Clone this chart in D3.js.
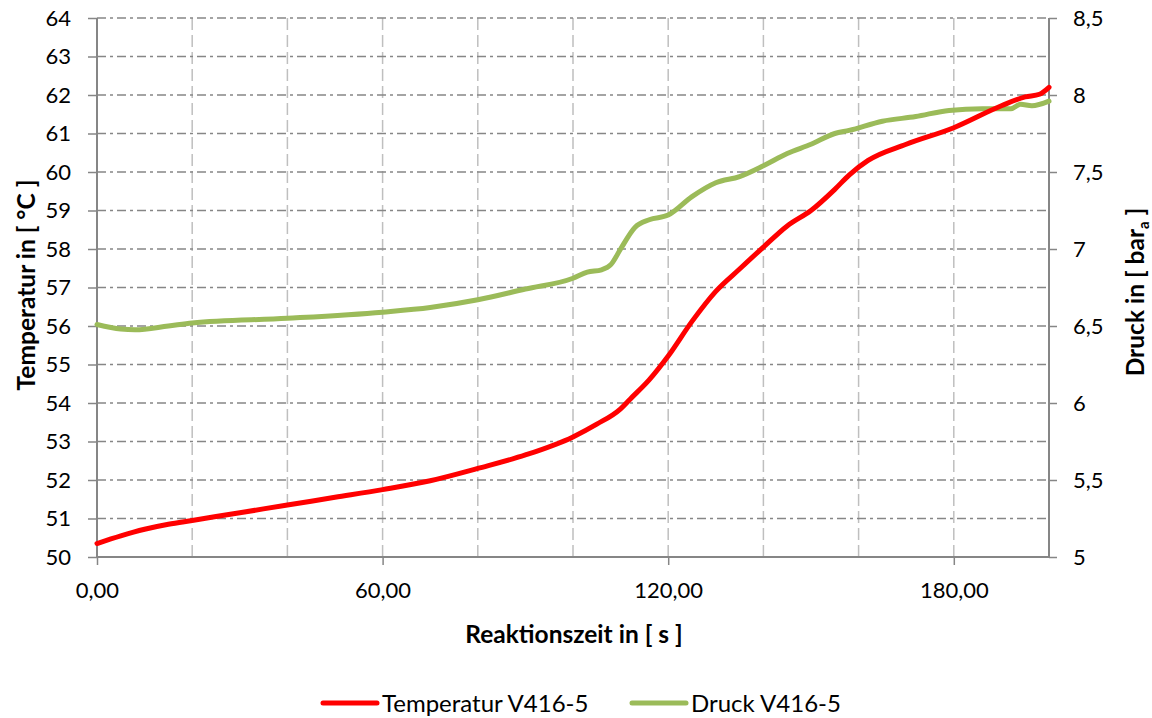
<!DOCTYPE html>
<html><head><meta charset="utf-8">
<script src="https://cdn.jsdelivr.net/npm/d3@7"></script>
<style>
body{margin:0;background:#fff;}
svg{display:block;font-family:Lato,"Open Sans",sans-serif;}
</style></head><body>
<svg id="c" width="1152" height="718"></svg>
<script>
const timeT = [0,5,10,15,20,30,40,50,60,70,80,90,100,105,110,112,116,120,125,130,135,140,145,150,155,158,162,170,180,190,195,198,200];
const tempT = [50.35,50.55,50.72,50.85,50.95,51.15,51.35,51.55,51.75,51.98,52.3,52.65,53.12,53.45,53.85,54.1,54.6,55.22,56.12,56.9,57.48,58.05,58.6,59.0,59.55,59.92,60.3,60.72,61.15,61.72,61.95,62.02,62.2];
const timeP = [0,5,8,15,20,40,60,70,80,90,100,103,106,108,110,113,116,120,125,130,135,140,145,150,155,158,165,172,179,186,192,194,196.4,200];
const druckP = [6.51,6.48,6.475,6.5,6.52,6.55,6.59,6.62,6.67,6.74,6.81,6.85,6.865,6.9,7.0,7.14,7.19,7.22,7.34,7.43,7.47,7.54,7.62,7.68,7.75,7.77,7.83,7.86,7.9,7.91,7.91,7.94,7.93,7.96];
const xTicks = [0,60,120,180];
const xGrid = [20,40,60,80,100,120,140,160,180];
const yLeftTicks = d3.range(50,65,1);
const yRightTicks = [5,5.5,6,6.5,7,7.5,8,8.5];
const seriesNames = ["Temperatur V416-5","Druck V416-5"];
const colors = ["#FF0000","#9BBB59"];

const svg = d3.select("#c");
const L=97, R=1049, T=18, B=557;
const x = d3.scaleLinear().domain([0,200]).range([L,R]);
const yL = d3.scaleLinear().domain([50,64]).range([B,T]);
const yR = d3.scaleLinear().domain([5,8.5]).range([B,T]);
const fmt = d => d.toFixed(2).replace(".",",");
const fmtR = d => String(d).replace(".",",");

// vertical grid
svg.append("g").selectAll("line").data(xGrid).join("line")
  .attr("x1",d=>x(d)).attr("x2",d=>x(d)).attr("y1",T).attr("y2",B)
  .attr("stroke","#BFBFBF").attr("stroke-width",1.5).attr("stroke-dasharray","12,5");
// horizontal grid
svg.append("g").selectAll("line").data(yLeftTicks.filter(d=>d>50)).join("line")
  .attr("x1",L).attr("x2",R).attr("y1",d=>yL(d)).attr("y2",d=>yL(d))
  .attr("stroke","#868686").attr("stroke-width",1.5).attr("stroke-dasharray","9,4,3,4");

// axes
const axL = svg.append("g").attr("transform",`translate(${L},0)`)
  .call(d3.axisLeft(yL).tickValues(yLeftTicks).tickFormat(d=>d).tickSize(9).tickPadding(17));
const axR = svg.append("g").attr("transform",`translate(${R},0)`)
  .call(d3.axisRight(yR).tickValues(yRightTicks).tickFormat(fmtR).tickSize(8).tickPadding(16));
const axB = svg.append("g").attr("transform",`translate(0,${B})`)
  .call(d3.axisBottom(x).tickValues(xTicks).tickFormat(fmt).tickSize(8).tickPadding(17));
[axL,axR,axB].forEach(a=>{
  a.select(".domain").attr("stroke","#868686").attr("stroke-width",2);
  a.selectAll(".tick line").attr("stroke","#868686").attr("stroke-width",1.5);
  a.selectAll("text").attr("font-size",22).attr("fill","#000").attr("font-family","Lato");
});
axL.select(".domain").attr("d",`M0,${B}V${T}`);
axR.select(".domain").attr("d",`M0,${B}V${T}`);
axB.select(".domain").attr("d",`M${L},0H${R}`);

// lines
const lineT = d3.line().x((d,i)=>x(timeT[i])).y(d=>yL(d)).curve(d3.curveMonotoneX);
const lineP = d3.line().x((d,i)=>x(timeP[i])).y(d=>yR(d)).curve(d3.curveMonotoneX);
svg.append("path").attr("d",lineP(druckP)).attr("fill","none").attr("stroke",colors[1]).attr("stroke-width",5).attr("stroke-linecap","round");
svg.append("path").attr("d",lineT(tempT)).attr("fill","none").attr("stroke",colors[0]).attr("stroke-width",5).attr("stroke-linecap","round");

// titles
svg.append("text").attr("transform","translate(35,285) rotate(-90)").attr("text-anchor","middle")
  .attr("font-size",24.5).attr("font-weight","bold").text("Temperatur in [ °C ]");
const tr = svg.append("text").attr("transform","translate(1144,292) rotate(-90)").attr("text-anchor","middle")
  .attr("font-size",24.5).attr("font-weight","bold");
tr.append("tspan").text("Druck in [ bar");
tr.append("tspan").attr("font-size",15).attr("dy",5).text("a");
tr.append("tspan").attr("dy",-5).text(" ]");
svg.append("text").attr("x",574).attr("y",643).attr("text-anchor","middle")
  .attr("font-size",24.5).attr("font-weight","bold").text("Reaktionszeit in [ s ]");

// legend
const legX = [323,632];
seriesNames.forEach((n,i)=>{
  svg.append("line").attr("x1",legX[i]).attr("x2",legX[i]+54).attr("y1",703).attr("y2",703)
    .attr("stroke",colors[i]).attr("stroke-width",5).attr("stroke-linecap","round");
  svg.append("text").attr("x",legX[i]+59).attr("y",712).attr("font-size",24).text(n);
});
</script></body></html>
